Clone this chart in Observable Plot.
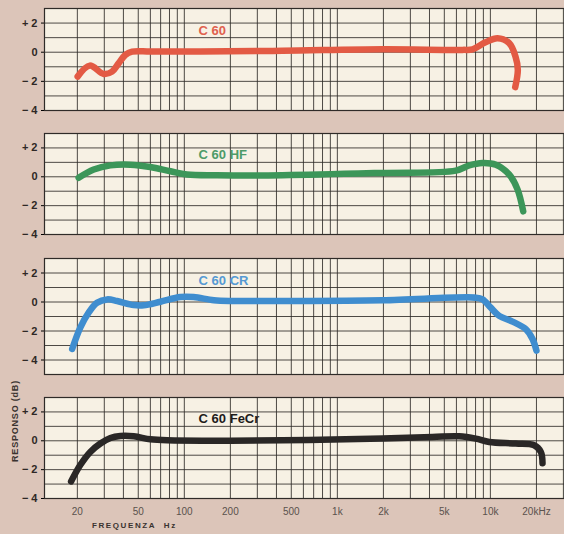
<!DOCTYPE html>
<html><head><meta charset="utf-8">
<script src="https://cdn.jsdelivr.net/npm/d3@7"></script>
<script src="https://cdn.jsdelivr.net/npm/@observablehq/plot@0.6"></script>
<style>
body{margin:0;background:#dcc5b9;}
#wrap{position:relative;width:564px;height:534px;background:#dcc5b9;overflow:hidden;font-family:"Liberation Sans",Arial,sans-serif;}
#wrap svg{position:absolute;left:0;}
#ylabel{position:absolute;left:15px;top:421px;transform:translate(-50%,-50%) rotate(-90deg);font-size:9px;font-weight:bold;letter-spacing:0.8px;color:#3a3330;white-space:nowrap;}
#xlabel{position:absolute;left:92px;top:521px;font-size:8px;font-weight:bold;letter-spacing:1.6px;color:#3a3330;white-space:nowrap;}
</style></head><body>
<div id="wrap"><div id="ylabel">RESPONSO (dB)</div><div id="xlabel">FREQUENZA&nbsp;&nbsp;Hz</div></div>
<script>
// ---- data ----
const xTicks = [20, 50, 100, 200, 500, 1000, 2000, 5000, 10000, 20000];
const xTickLabels = ["20", "50", "100", "200", "500", "1k", "2k", "5k", "10k", "20kHz"];
const yTicks = [2, 0, -2, -4];
const yTickLabels = ["+ 2", "0", "\u2212 2", "\u2212 4"];
const freqGrid = [20,30,40,50,60,70,80,90,100,200,300,400,500,600,700,800,900,1000,2000,3000,4000,5000,6000,7000,8000,9000,10000,20000,30000];

const seriesNames = ["C 60", "C 60 HF", "C 60 CR", "C 60 FeCr"];

const c60Freq = [20.1, 24.1, 29.7, 33.7, 37.3, 41.2, 45.6, 60, 127, 438, 1971, 6572, 7642, 9293, 11130, 13270, 14590, 15110, 14530];
const c60Db   = [-1.67, -0.92, -1.49, -1.33, -0.75, -0.18, 0.04, 0.05, 0.05, 0.1, 0.2, 0.16, 0.2, 0.68, 0.96, 0.62, -0.3, -1.21, -2.4];

const c60hfFreq = [20.4, 25.6, 32.9, 44.4, 60, 81.2, 104, 164, 438, 1971, 5940, 7270, 8880, 10850, 13270, 15040, 16390];
const c60hfDb   = [-0.07, 0.5, 0.79, 0.84, 0.68, 0.38, 0.16, 0.11, 0.11, 0.27, 0.43, 0.79, 0.96, 0.84, 0.16, -0.87, -2.4];

const c60crFreq = [18.5, 20.9, 23.7, 26.9, 31.3, 36.4, 46.7, 54.3, 69.8, 94.3, 115, 156, 210, 438, 1971, 8030, 8880, 10060, 11420, 13950, 17040, 18850, 20010];
const c60crDb   = [-3.24, -1.76, -0.73, -0.05, 0.18, 0.07, -0.21, -0.23, 0.02, 0.34, 0.34, 0.12, 0.07, 0.07, 0.12, 0.3, 0.18, -0.39, -0.96, -1.35, -1.87, -2.55, -3.36];

const c60fecrFreq = [18.2, 20.9, 24.3, 28.3, 32.9, 38.2, 46.7, 60, 77.2, 438, 1971, 4183, 6254, 8030, 9822, 14660, 19330, 21360, 21910];
const c60fecrDb   = [-2.82, -1.68, -0.77, -0.19, 0.19, 0.33, 0.31, 0.1, 0.03, 0.03, 0.15, 0.26, 0.31, 0.15, -0.08, -0.19, -0.31, -0.77, -1.56];

const labelFreq = 124;
const labelDb = [1.5, 1.5, 1.45, 1.55];

// ---- drawing ----
const wrap = document.getElementById("wrap");
const tickLabelMap = new Map(xTicks.map((t, i) => [t, xTickLabels[i]]));
const yLabelMap = new Map(yTicks.map((t, i) => [t, yTickLabels[i]]));

function panel({freq, db, color, textColor, name, ldb, yMin, top, innerH, mBottom, showX, fontSize}) {
  const data = freq.map((f, i) => ({f, db: db[i]}));
  const yGrid = d3.range(yMin, 4);
  const marks = [
    Plot.frame({fill: "#f7f1e4", stroke: null}),
    Plot.ruleX(freqGrid, {stroke: "#2f2b28", strokeWidth: 1, strokeOpacity: 0.85}),
    Plot.ruleY(yGrid, {stroke: "#2f2b28", strokeWidth: 1, strokeOpacity: 0.85}),
    Plot.axisY(yTicks, {tickFormat: d => yLabelMap.get(d), tickSize: 3, tickPadding: 4, fontSize: 11, fontWeight: "bold", fill: "#2e2825", label: null}),
    Plot.line(data, {x: "f", y: "db", stroke: color, strokeWidth: 6.5, curve: "catmull-rom", strokeLinecap: "round", strokeLinejoin: "round"}),
    Plot.text([name], {x: labelFreq, y: ldb, text: d => d, fill: textColor, fontWeight: "bold", fontSize, textAnchor: "start"}),
    Plot.frame({stroke: "#2f2b28", strokeWidth: 1.2})
  ];
  if (showX) marks.push(Plot.text(xTicks, {x: d => d, text: d => tickLabelMap.get(d), frameAnchor: "bottom", dy: 16, fontSize: 10, fill: "#5a524d"}));
  const svg = Plot.plot({
    width: 564,
    height: 8 + innerH + mBottom,
    marginLeft: 44, marginRight: 0, marginTop: 8, marginBottom: mBottom,
    style: {background: "transparent", fontFamily: "'Liberation Sans', Arial, sans-serif", overflow: "visible"},
    x: {type: "log", domain: [12.2, 30500], axis: null},
    y: {domain: [yMin, 3], axis: null},
    marks
  });
  svg.style.top = top + "px";
  wrap.appendChild(svg);
}

panel({freq: c60Freq, db: c60Db, color: "#e35a44", textColor: "#e0604d", name: seriesNames[0], ldb: labelDb[0], yMin: -4, top: 0, innerH: 102, mBottom: 15, showX: false, fontSize: 13});
panel({freq: c60hfFreq, db: c60hfDb, color: "#3c9659", textColor: "#4d9b68", name: seriesNames[1], ldb: labelDb[1], yMin: -4, top: 125, innerH: 101, mBottom: 16, showX: false, fontSize: 13});
panel({freq: c60crFreq, db: c60crDb, color: "#3f8dcf", textColor: "#5599d3", name: seriesNames[2], ldb: labelDb[2], yMin: -5, top: 250, innerH: 116, mBottom: 15, showX: false, fontSize: 13});
panel({freq: c60fecrFreq, db: c60fecrDb, color: "#2a2726", textColor: "#1e1b1a", name: seriesNames[3], ldb: labelDb[3], yMin: -4, top: 389, innerH: 101, mBottom: 36, showX: true, fontSize: 13});
</script></body></html>
